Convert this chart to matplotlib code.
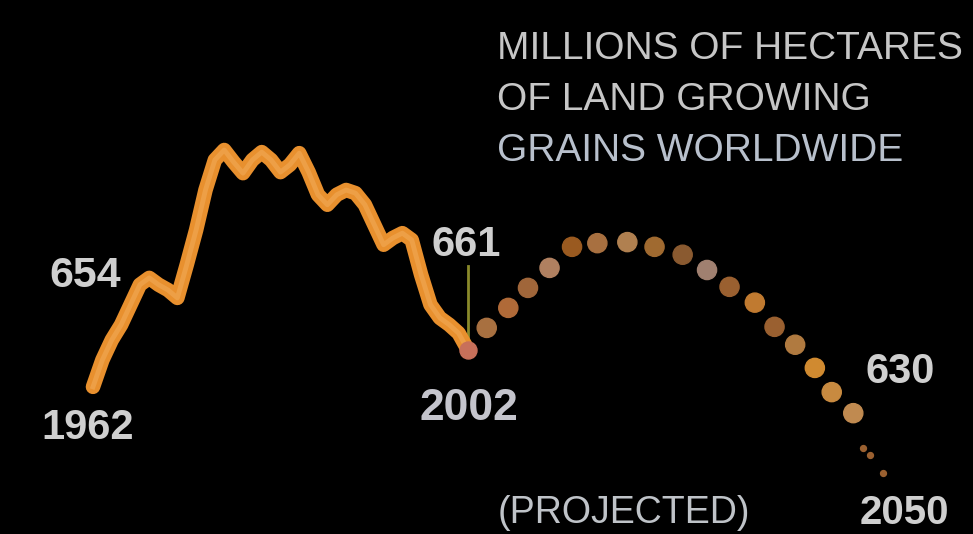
import matplotlib.pyplot as plt

# Data (millions of hectares)
hist_years = list(range(1962, 2003))
hist_values = [654.0, 659.1, 662.9, 665.8, 669.6, 673.4, 674.7, 673.4, 672.4, 670.9,
               677.2, 683.8, 691.4, 697.1, 699.0, 696.7, 694.6, 697.1, 698.6, 697.1,
               694.8, 696.2, 698.4, 694.8, 690.5, 688.6, 690.5, 691.4, 690.8, 688.6,
               684.8, 681.0, 682.3, 683.2, 681.9, 675.3, 669.6, 667.1, 665.8, 664.2,
               661.0]

proj_years = [2004.0, 2006.3, 2008.4, 2010.7, 2013.1, 2015.8, 2019.0, 2021.9, 2024.9,
              2027.5, 2029.9, 2032.6, 2034.7, 2036.9, 2039.0, 2040.8, 2043.1]
proj_values = [665.2, 669.0, 672.8, 676.6, 680.6, 681.3, 681.5, 680.6, 679.1,
               676.2, 673.0, 670.0, 665.4, 662.0, 657.6, 653.0, 649.0]
tail_years = [2044.1, 2044.9, 2046.3]
tail_values = [642.4, 641.0, 637.6]

proj_colors = ['#a87040', '#b06a38', '#a0663a', '#b08060', '#9a5a20', '#a87040',
               '#b08050', '#a06a30', '#8a5a30', '#a08070', '#9a6030', '#c07a30',
               '#9a6030', '#b07a40', '#d08a30', '#c88a40', '#c08a50']

fig = plt.figure(figsize=(9.73, 5.34), dpi=100, facecolor='black')
ax = fig.add_axes([0, 0, 1, 1])
ax.set_facecolor('black')
ax.set_xlim(1952.08, 2055.87)
ax.set_ylim(626.04, 727.5)
ax.axis('off')

# historical line
ax.plot(hist_years, hist_values, color='#e8902e', lw=10.5, solid_capstyle='round',
        solid_joinstyle='round', zorder=3)
ax.plot(hist_years, hist_values, color='#f2ac5a', lw=3.5, alpha=0.55,
        solid_joinstyle='round', zorder=4)
ax.scatter([hist_years[-1]], [hist_values[-1]], s=150, color='#c8705a', zorder=5)

# leader line to 661 label
ax.plot([2002, 2002], [661.0, 677.0], color='#8a8a2a', lw=2, zorder=2)

# projection dots
ax.scatter(proj_years, proj_values, s=190, c=proj_colors, zorder=3)
ax.scatter(tail_years, tail_values, s=18, color='#9a6030', zorder=3)

txt = dict(color='#cfcfcf', fontfamily='Liberation Sans', fontweight='bold')
fig.text(85 / 973, 1 - 276 / 534, '654', ha='center', va='center', fontsize=31, **txt)
fig.text(88 / 973, 1 - 428 / 534, '1962', ha='center', va='center', fontsize=30, **txt)
fig.text(466 / 973, 1 - 245 / 534, '661', ha='center', va='center', fontsize=30, **txt)
fig.text(469 / 973, 1 - 408 / 534, '2002', ha='center', va='center', fontsize=32,
         color='#c4c4cc', fontfamily='Liberation Sans', fontweight='bold')
fig.text(900 / 973, 1 - 372 / 534, '630', ha='center', va='center', fontsize=30, **txt)
fig.text(904 / 973, 1 - 513 / 534, '2050', ha='center', va='center', fontsize=29, **txt)
fig.text(624 / 973, 1 - 513 / 534, '(PROJECTED)', ha='center', va='center',
         fontsize=27, color='#bfc3c8', fontfamily='Liberation Sans')

title = ['MILLIONS OF HECTARES', 'OF LAND GROWING', 'GRAINS WORLDWIDE']
title_colors = ['#c6c6c6', '#c6c6c6', '#b8c0cc']
for i, line in enumerate(title):
    fig.text(497 / 973, 1 - (49 + i * 51) / 534, line, ha='left', va='center',
             fontsize=28, color=title_colors[i], fontfamily='Liberation Sans')

fig.savefig('out.png', dpi=100, facecolor='black')
